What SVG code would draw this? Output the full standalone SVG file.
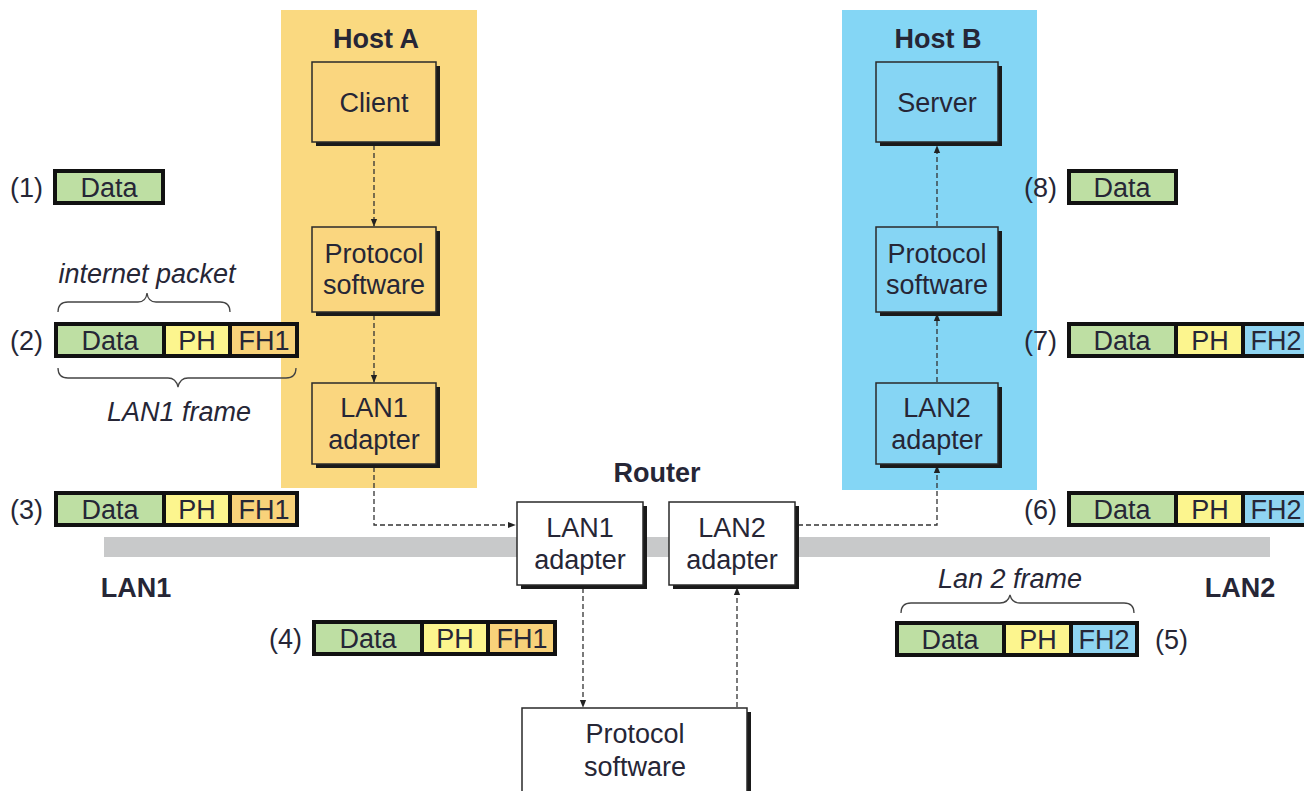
<svg xmlns="http://www.w3.org/2000/svg" width="1304" height="791" viewBox="0 0 1304 791">
<defs>
<style>
text{font-family:"Liberation Sans",Arial,sans-serif;fill:#262636;}
.t{font-size:27px;text-anchor:middle;}
.b{font-size:27px;font-weight:bold;text-anchor:middle;}
.i{font-size:27px;font-style:italic;text-anchor:middle;}
.lbl{font-size:27px;}
.sh{fill:#1a1a1a;}
.boxA{fill:#FAD67F;stroke:#2a2a2a;stroke-width:1.5;}
.boxB{fill:#86D5F4;stroke:#2a2a2a;stroke-width:1.5;}
.boxW{fill:#ffffff;stroke:#2a2a2a;stroke-width:1.5;}
.d{fill:#BEDFA3;}
.p{fill:#FCF58E;}
.f1{fill:#F8D27A;}
.f2{fill:#8FD4F1;}
.pk{fill:none;stroke:#111;stroke-width:4;}
.sep{stroke:#111;stroke-width:4;}
.c{fill:none;stroke:#333;stroke-width:1.3;stroke-dasharray:5 3;}
.br{fill:none;stroke:#444;stroke-width:1.3;}
</style>
<marker id="ah" viewBox="0 0 10 10" refX="9" refY="5" markerWidth="8" markerHeight="8" orient="auto" markerUnits="userSpaceOnUse">
<path d="M0,1 L10,5 L0,9 z" fill="#222"/>
</marker>
</defs>
<rect width="1304" height="791" fill="#ffffff"/>

<!-- host backgrounds -->
<g id="hostA">
<rect x="281" y="10" width="196" height="478" fill="#FAD980"/>
<text class="b" x="376" y="48">Host A</text>
</g>
<g id="hostB">
<rect x="842" y="10" width="195" height="480" fill="#84D6F5"/>
<text class="b" x="938" y="48">Host B</text>
</g>

<!-- LAN bar -->
<g id="lanbar">
<rect x="104" y="537" width="1166" height="20" fill="#C8C9CA"/>
<text class="b" x="136" y="597">LAN1</text>
<text class="b" x="1240" y="597">LAN2</text>
</g>

<!-- connectors -->
<g id="connectors">
<line class="c" x1="374" y1="145" x2="374" y2="226" marker-end="url(#ah)"/>
<line class="c" x1="374" y1="315" x2="374" y2="382" marker-end="url(#ah)"/>
<polyline class="c" points="374,467 374,525 515,525" marker-end="url(#ah)"/>
<line class="c" x1="583" y1="588" x2="583" y2="707" marker-end="url(#ah)"/>
<line class="c" x1="737" y1="707" x2="737" y2="588" marker-end="url(#ah)"/>
<polyline class="c" points="798,525 937,525 937,466" marker-end="url(#ah)"/>
<line class="c" x1="937" y1="382" x2="937" y2="314" marker-end="url(#ah)"/>
<line class="c" x1="937" y1="226" x2="937" y2="146" marker-end="url(#ah)"/>
</g>

<!-- Host A nodes -->
<g id="client">
<rect class="sh" x="316" y="66" width="124" height="80"/>
<rect class="boxA" x="312" y="62" width="124" height="80"/>
<text class="t" x="374" y="112">Client</text>
</g>
<g id="protoA">
<rect class="sh" x="316" y="231" width="124" height="85"/>
<rect class="boxA" x="312" y="227" width="124" height="85"/>
<text class="t" x="374" y="263">Protocol</text>
<text class="t" x="374" y="294">software</text>
</g>
<g id="lan1A">
<rect class="sh" x="316" y="387" width="124" height="81"/>
<rect class="boxA" x="312" y="383" width="124" height="81"/>
<text class="t" x="374" y="417">LAN1</text>
<text class="t" x="374" y="449">adapter</text>
</g>

<!-- Host B nodes -->
<g id="server">
<rect class="sh" x="880" y="66" width="122" height="80"/>
<rect class="boxB" x="876" y="62" width="122" height="80"/>
<text class="t" x="937" y="112">Server</text>
</g>
<g id="protoB">
<rect class="sh" x="880" y="231" width="122" height="85"/>
<rect class="boxB" x="876" y="227" width="122" height="85"/>
<text class="t" x="937" y="263">Protocol</text>
<text class="t" x="937" y="294">software</text>
</g>
<g id="lan2B">
<rect class="sh" x="880" y="387" width="122" height="81"/>
<rect class="boxB" x="876" y="383" width="122" height="81"/>
<text class="t" x="937" y="417">LAN2</text>
<text class="t" x="937" y="449">adapter</text>
</g>

<!-- Router -->
<g id="router">
<text class="b" x="657" y="482">Router</text>
</g>
<g id="rlan1">
<rect class="sh" x="521" y="506" width="126" height="83"/>
<rect class="boxW" x="517" y="502" width="126" height="83"/>
<text class="t" x="580" y="537">LAN1</text>
<text class="t" x="580" y="569">adapter</text>
</g>
<g id="rlan2">
<rect class="sh" x="673" y="506" width="126" height="83"/>
<rect class="boxW" x="669" y="502" width="126" height="83"/>
<text class="t" x="732" y="537">LAN2</text>
<text class="t" x="732" y="569">adapter</text>
</g>
<g id="rproto">
<rect class="sh" x="526" y="712" width="225" height="90"/>
<rect class="boxW" x="522" y="708" width="225" height="90"/>
<text class="t" x="635" y="743">Protocol</text>
<text class="t" x="635" y="776">software</text>
</g>

<!-- packets -->
<g id="pkt1">
<text class="lbl" x="10" y="197">(1)</text>
<rect class="d" x="55" y="171" width="108" height="32"/>
<rect class="pk" x="55" y="171" width="108" height="32"/>
<text class="t" x="109" y="197">Data</text>
</g>
<g id="pkt2">
<text class="lbl" x="10" y="350">(2)</text>
<rect class="d" x="56" y="324" width="108" height="32"/>
<rect class="p" x="164" y="324" width="66" height="32"/>
<rect class="f1" x="230" y="324" width="67" height="32"/>
<rect class="pk" x="56" y="324" width="241" height="32"/>
<line class="sep" x1="164" y1="324" x2="164" y2="356"/>
<line class="sep" x1="230" y1="324" x2="230" y2="356"/>
<text class="t" x="110" y="350">Data</text>
<text class="t" x="197" y="350">PH</text>
<text class="t" x="264" y="350">FH1</text>
<path class="br" d="M58,312 Q58,302 68,302 L138,302 Q146,302 147,293 Q148,302 156,302 L220,302 Q230,302 230,312"/>
<text class="i" x="147" y="283">internet packet</text>
<path class="br" d="M58,368 Q58,378 68,378 L168,378 Q176,378 178,387 Q180,378 188,378 L286,378 Q296,378 296,368"/>
<text class="i" x="179" y="421">LAN1 frame</text>
</g>
<g id="pkt3">
<text class="lbl" x="10" y="519">(3)</text>
<rect class="d" x="56" y="493" width="108" height="32"/>
<rect class="p" x="164" y="493" width="66" height="32"/>
<rect class="f1" x="230" y="493" width="67" height="32"/>
<rect class="pk" x="56" y="493" width="241" height="32"/>
<line class="sep" x1="164" y1="493" x2="164" y2="525"/>
<line class="sep" x1="230" y1="493" x2="230" y2="525"/>
<text class="t" x="110" y="519">Data</text>
<text class="t" x="197" y="519">PH</text>
<text class="t" x="264" y="519">FH1</text>
</g>
<g id="pkt4">
<text class="lbl" x="269" y="648">(4)</text>
<rect class="d" x="314" y="622" width="108" height="32"/>
<rect class="p" x="422" y="622" width="66" height="32"/>
<rect class="f1" x="488" y="622" width="67" height="32"/>
<rect class="pk" x="314" y="622" width="241" height="32"/>
<line class="sep" x1="422" y1="622" x2="422" y2="654"/>
<line class="sep" x1="488" y1="622" x2="488" y2="654"/>
<text class="t" x="368" y="648">Data</text>
<text class="t" x="455" y="648">PH</text>
<text class="t" x="522" y="648">FH1</text>
</g>
<g id="pkt5">
<text class="i" x="1010" y="588">Lan 2 frame</text>
<path class="br" d="M901,613 Q901,603 911,603 L1000,603 Q1008,603 1010,595 Q1012,603 1020,603 L1124,603 Q1134,603 1134,613"/>
<rect class="d" x="897" y="623" width="107" height="32"/>
<rect class="p" x="1004" y="623" width="67" height="32"/>
<rect class="f2" x="1071" y="623" width="66" height="32"/>
<rect class="pk" x="897" y="623" width="240" height="32"/>
<line class="sep" x1="1004" y1="623" x2="1004" y2="655"/>
<line class="sep" x1="1071" y1="623" x2="1071" y2="655"/>
<text class="t" x="950" y="649">Data</text>
<text class="t" x="1038" y="649">PH</text>
<text class="t" x="1104" y="649">FH2</text>
<text class="lbl" x="1155" y="649">(5)</text>
</g>
<g id="pkt6">
<text class="lbl" x="1024" y="519">(6)</text>
<rect class="d" x="1069" y="493" width="107" height="32"/>
<rect class="p" x="1176" y="493" width="67" height="32"/>
<rect class="f2" x="1243" y="493" width="66" height="32"/>
<rect class="pk" x="1069" y="493" width="240" height="32"/>
<line class="sep" x1="1176" y1="493" x2="1176" y2="525"/>
<line class="sep" x1="1243" y1="493" x2="1243" y2="525"/>
<text class="t" x="1122" y="519">Data</text>
<text class="t" x="1210" y="519">PH</text>
<text class="t" x="1276" y="519">FH2</text>
</g>
<g id="pkt7">
<text class="lbl" x="1024" y="350">(7)</text>
<rect class="d" x="1069" y="324" width="107" height="32"/>
<rect class="p" x="1176" y="324" width="67" height="32"/>
<rect class="f2" x="1243" y="324" width="66" height="32"/>
<rect class="pk" x="1069" y="324" width="240" height="32"/>
<line class="sep" x1="1176" y1="324" x2="1176" y2="356"/>
<line class="sep" x1="1243" y1="324" x2="1243" y2="356"/>
<text class="t" x="1122" y="350">Data</text>
<text class="t" x="1210" y="350">PH</text>
<text class="t" x="1276" y="350">FH2</text>
</g>
<g id="pkt8">
<text class="lbl" x="1024" y="197">(8)</text>
<rect class="d" x="1069" y="171" width="107" height="32"/>
<rect class="pk" x="1069" y="171" width="107" height="32"/>
<text class="t" x="1122" y="197">Data</text>
</g>
</svg>
